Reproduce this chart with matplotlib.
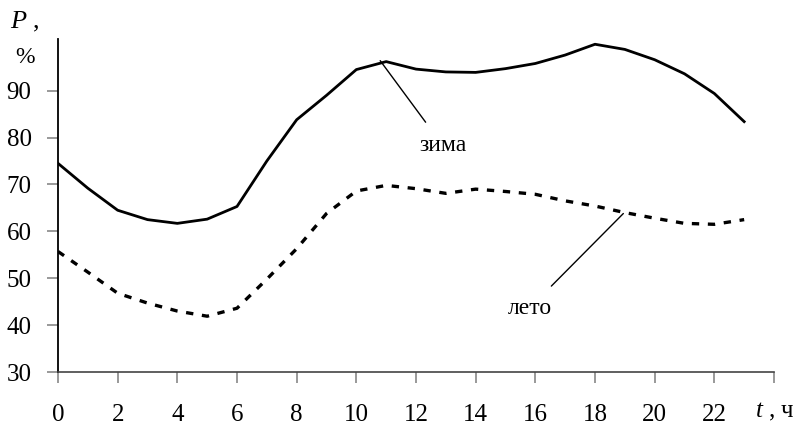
import matplotlib
matplotlib.use("Agg")
import matplotlib.pyplot as plt

hours = list(range(24))
zima = [74.5, 69.2, 64.5, 62.5, 61.7, 62.6, 65.3, 75.0, 83.8, 89.0, 94.5, 96.2,
        94.6, 94.0, 93.9, 94.7, 95.8, 97.6, 99.9, 98.8, 96.6, 93.6, 89.4, 83.4]
leto = [55.7, 51.3, 46.8, 44.7, 43.0, 41.9, 43.6, 49.8, 56.3, 63.8, 68.6, 69.8,
        69.1, 68.1, 69.0, 68.5, 67.9, 66.5, 65.4, 64.0, 62.8, 61.7, 61.5, 62.5]
xticks = list(range(0, 25, 2))
xticklabels = [str(v) for v in range(0, 23, 2)] + [""]
yticks = [30, 40, 50, 60, 70, 80, 90]

plt.rcParams['font.family'] = ['Liberation Serif', 'DejaVu Serif']
plt.rcParams['mathtext.fontset'] = 'custom'
plt.rcParams['mathtext.it'] = 'Liberation Serif:italic'
plt.rcParams['mathtext.rm'] = 'Liberation Serif'

fig = plt.figure(figsize=(8, 4.25), dpi=100)
ax = fig.add_axes([0.0725, 0.1247, 0.895, 0.7833])

ax.plot(hours, zima, color='black', lw=2.0, solid_joinstyle='round')
ax.plot(hours, leto, color='black', lw=2.4, linestyle=(0, (2.2, 2.6)))

ax.set_xlim(0, 24)
ax.set_ylim(30, 101)
ax.set_xticks(xticks)
ax.set_xticklabels(xticklabels)
ax.set_yticks(yticks)
ax.tick_params(axis='both', labelsize=18, color='#888888', length=8, width=1.2)
ax.tick_params(axis='x', pad=15)
ax.tick_params(axis='y', pad=11)
for s in ['top', 'right']:
    ax.spines[s].set_visible(False)
ax.spines['left'].set_color('black')
ax.spines['left'].set_linewidth(1.3)
ax.spines['bottom'].set_color('#444444')
ax.spines['bottom'].set_linewidth(1.2)

ax.annotate('зима', xy=(10.8, 96.4), xytext=(12.9, 78.3), fontsize=17,
            ha='center', va='center',
            arrowprops=dict(arrowstyle='-', color='black', lw=1.0, shrinkA=9, shrinkB=0))
ax.annotate('лето', xy=(18.95, 63.8), xytext=(15.8, 43.6), fontsize=17,
            ha='center', va='center',
            arrowprops=dict(arrowstyle='-', color='black', lw=1.0, shrinkA=9, shrinkB=0))

fig.text(0.993, 0.031, '$t$ , ч', fontsize=18, ha='right', va='center')
fig.text(0.012, 0.948, '$P$ ,', fontsize=19, ha='left', va='center')
fig.text(0.031, 0.864, '%', fontsize=17, ha='center', va='center')

fig.savefig('out.png', dpi=100)
